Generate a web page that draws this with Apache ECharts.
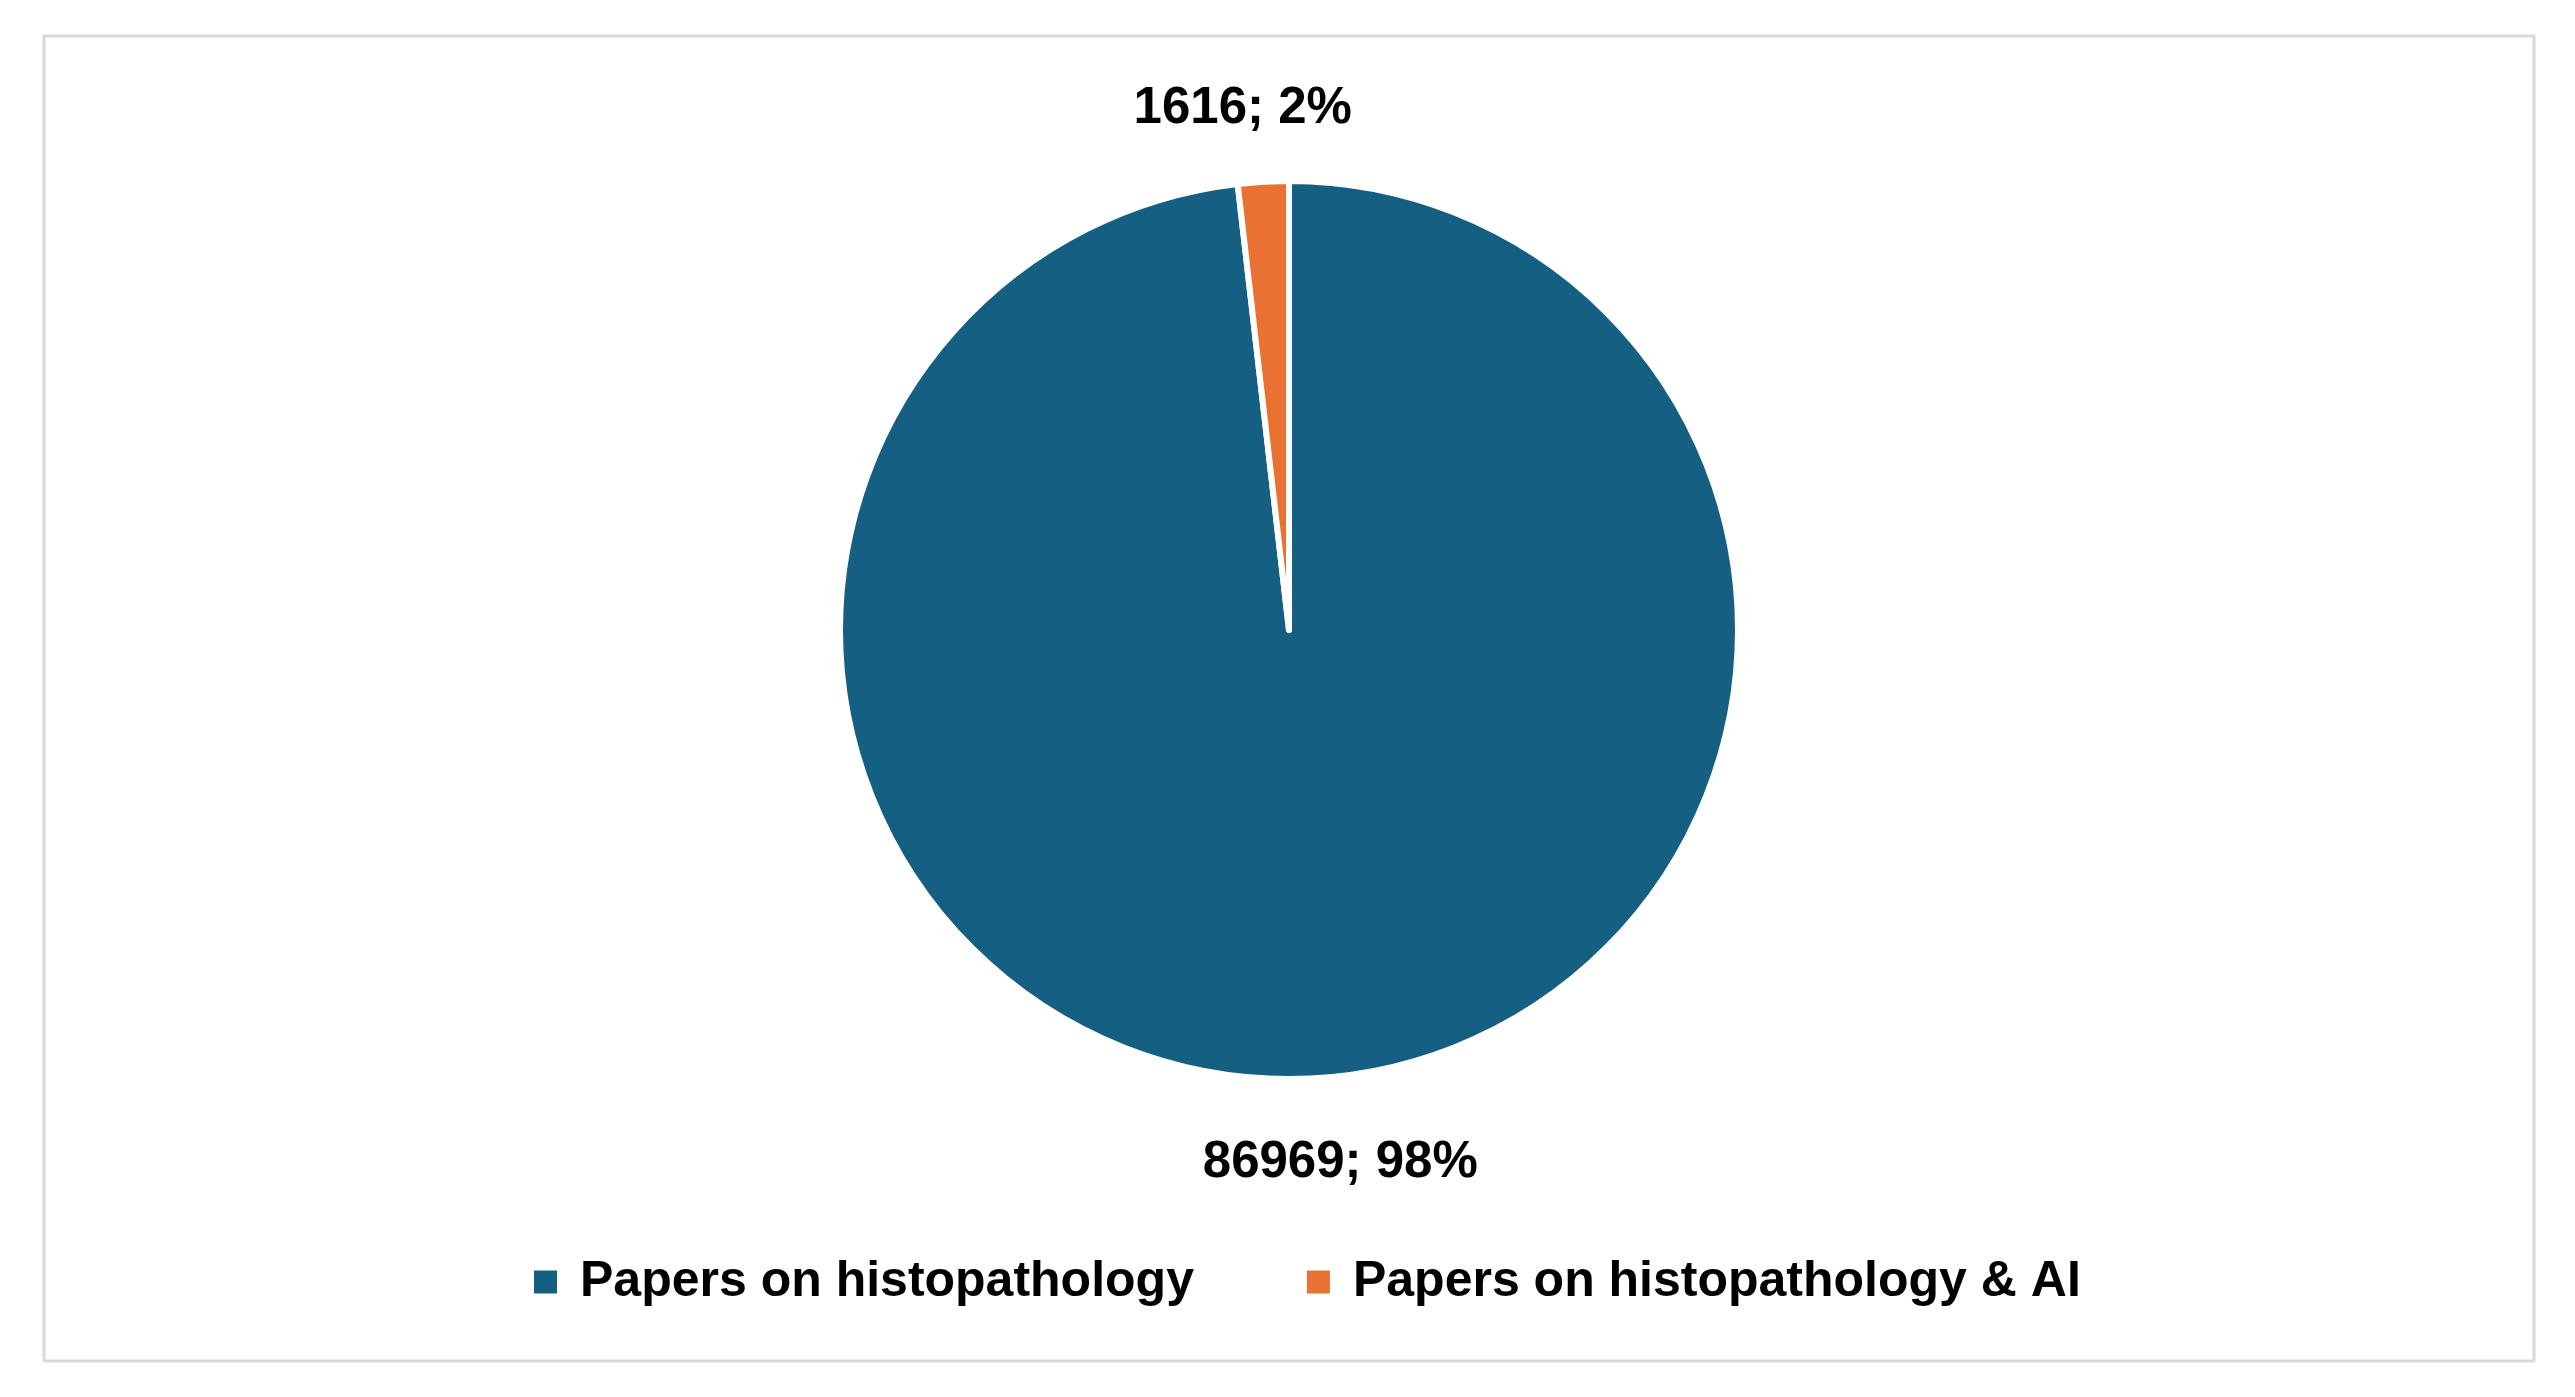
<!DOCTYPE html>
<html>
<head>
<meta charset="utf-8">
<script src="https://cdn.jsdelivr.net/npm/echarts@6/dist/echarts.min.js"></script>
<style>
  html, body { margin: 0; padding: 0; background: #fff; }
  #chart { width: 2575px; height: 1397px; }
</style>
</head>
<body>
<div id="chart"></div>
<script>
// data
var categories = ["Papers on histopathology", "Papers on histopathology & AI"];
var paperCounts = [86969, 1616];
var sliceColors = ["#156082", "#E97132"];

// small nudges so the labels sit like the excel "outside end" ones
var labelDx = [16, -11];
var labelDy = [5, 7];

var pieData = categories.map(function (name, i) {
  return { name: name, value: paperCounts[i], itemStyle: { color: sliceColors[i] } };
});

var chart = echarts.init(document.getElementById("chart"));

chart.setOption({
  backgroundColor: "#ffffff",
  animation: false,
  graphic: [
    {
      type: "rect",
      shape: { x: 44, y: 36, width: 2490, height: 1325 },
      style: { fill: "none", stroke: "#d9d9d9", lineWidth: 3 },
      z: -1
    }
  ],
  legend: {
    data: categories,
    left: 527,
    top: 1251,
    itemWidth: 25,
    itemHeight: 25,
    itemGap: 111,
    icon: "rect",
    textStyle: {
      fontFamily: "Liberation Sans, Arial, sans-serif",
      fontSize: 50,
      fontWeight: "bold",
      color: "#000",
      lineHeight: 52,
      padding: [0, 0, 0, 17]
    }
  },
  series: [
    {
      type: "pie",
      center: [1289, 630],
      radius: 449,
      startAngle: 90,
      clockwise: true,
      data: pieData,
      itemStyle: { borderColor: "#fff", borderWidth: 6 },
      label: {
        show: true,
        position: "outside",
        formatter: function (p) {
          return p.value + "; " + Math.round(p.percent) + "%";
        },
        fontFamily: "Liberation Sans, Arial, sans-serif",
        fontSize: 51,
        fontWeight: "bold",
        color: "#000"
      },
      labelLine: { show: false, length: 80, length2: 0 },
      labelLayout: function (params) {
        return {
          align: "center",
          verticalAlign: "middle",
          dx: labelDx[params.dataIndex],
          dy: labelDy[params.dataIndex]
        };
      },
      emphasis: { disabled: true }
    }
  ]
});
</script>
</body>
</html>
